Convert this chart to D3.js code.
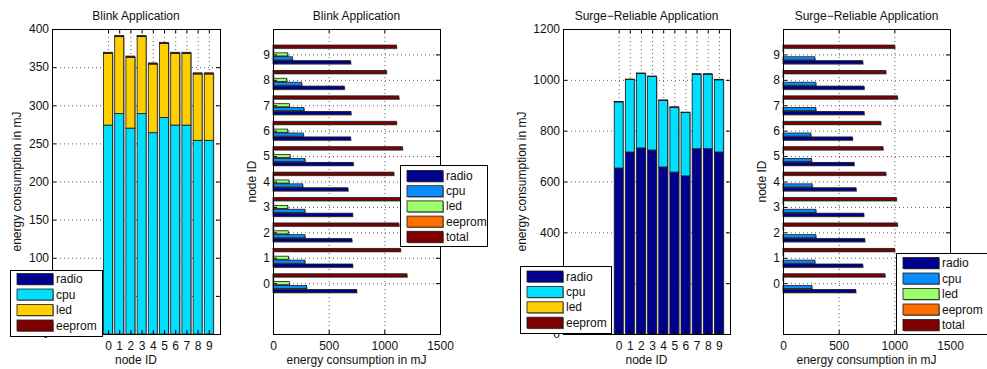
<!DOCTYPE html>
<html>
<head>
<meta charset="utf-8">
<script src="https://cdn.jsdelivr.net/npm/d3@7"></script>
<style>
  body { margin: 0; background: #fff; }
  text { font-family: "Liberation Sans", Arial, Helvetica, sans-serif; fill: #111; }
</style>
</head>
<body>
<svg id="chart" width="987" height="369"></svg>
<script>
// ---- data -------------------------------------------------------------
const nodes = [0, 1, 2, 3, 4, 5, 6, 7, 8, 9];

// Blink application, stacked per node (mJ)
const blinkStackRadio  = [0, 0, 0, 0, 0, 0, 0, 0, 0, 0];
const blinkStackCpu    = [274, 289, 270, 289, 264, 284, 274, 274, 254, 254];
const blinkStackLed    = [94, 101, 93, 101, 90, 97, 94, 94, 87, 87];
const blinkStackEeprom = [1.5, 1.5, 1.5, 1.5, 1.5, 1.5, 1.5, 1.5, 1.5, 1.5];

// Blink application, grouped per node (mJ)
const blinkRadio  = [751, 715, 708, 715, 673, 720, 697, 700, 640, 697];
const blinkCpu    = [302, 287, 287, 287, 267, 287, 272, 278, 258, 174];
const blinkLed    = [147, 140, 137, 132, 144, 153, 132, 147, 123, 132];
const blinkEeprom = [4, 4, 4, 4, 4, 4, 4, 4, 4, 4];
const blinkTotal  = [1203, 1145, 1130, 1150, 1085, 1162, 1108, 1130, 1018, 1108];

// Surge-Reliable application, stacked per node (mJ)
const surgeStackRadio  = [653, 716, 732, 724, 657, 637, 622, 729, 729, 716];
const surgeStackCpu    = [260, 285, 293, 289, 262, 255, 249, 293, 293, 284];
const surgeStackLed    = [0, 0, 0, 0, 0, 0, 0, 0, 0, 0];
const surgeStackEeprom = [2, 2, 2, 2, 2, 2, 2, 2, 2, 2];

// Surge-Reliable application, grouped per node (mJ)
const surgeRadio  = [653, 716, 734, 725, 656, 638, 623, 728, 728, 716];
const surgeCpu    = [259, 286, 295, 295, 262, 256, 250, 295, 295, 286];
const surgeLed    = [0, 0, 0, 0, 0, 0, 0, 0, 0, 0];
const surgeEeprom = [3, 3, 3, 3, 3, 3, 3, 3, 3, 3];
const surgeTotal  = [916, 1003, 1027, 1018, 923, 898, 878, 1027, 923, 1003];

const stackKeys = ["radio", "cpu", "led", "eeprom"];
const groupKeys = ["radio", "cpu", "led", "eeprom", "total"];
const stackColors = ["#000090", "#00DFFF", "#FFCF00", "#800000"];
const groupColors = ["#000090", "#0A8CFF", "#9CFF6C", "#FF7000", "#800000"];

const blinkTicks = d3.range(0, 401, 50);
const surgeTicks = d3.range(0, 1201, 200);
const energyTicks = [0, 500, 1000, 1500];

// ---- helpers ----------------------------------------------------------
const svg = d3.select("#chart");
const FS = 12;
const fmt = d3.format("d");

function label(g, x, y, str, anchor, rotate) {
  return g.append("text")
    .attr("transform", `translate(${x},${y})` + (rotate ? " rotate(-90)" : ""))
    .attr("text-anchor", anchor || "middle")
    .attr("dominant-baseline", "central")
    .style("font-size", FS + "px")
    .text(str);
}

function styleGrid(sel) {
  sel.select(".domain").remove();
  sel.selectAll("text").remove();
  sel.selectAll(".tick line")
    .attr("stroke", "#333")
    .attr("stroke-width", 0.8)
    .attr("stroke-dasharray", "1,3");
}

function styleTicks(sel, keepText) {
  sel.select(".domain").remove();
  sel.selectAll(".tick line").attr("stroke", "#000");
  if (!keepText) sel.selectAll("text").remove();
  else sel.selectAll("text").style("font-size", FS + "px")
    .style("font-family", '"Liberation Sans", Arial, sans-serif').attr("fill", "#111");
}

function shadedRect(g, x, y, w, h) {
  g.append("rect").attr("x", x + 1).attr("y", y + 1).attr("width", Math.max(w, 0)).attr("height", Math.max(h, 0))
    .attr("fill", "#8f8f8f");
}

function drawRect(g, x, y, w, h, fill) {
  g.append("rect").attr("x", x).attr("y", y).attr("width", Math.max(w, 0)).attr("height", Math.max(h, 0))
    .attr("fill", fill).attr("stroke", "#1a1a1a").attr("stroke-width", 0.8);
}

function legend(g, box, keys, colors) {
  const lg = g.append("g");
  lg.append("rect").attr("x", box.x + 0.5).attr("y", box.y + 0.5)
    .attr("width", box.w).attr("height", box.h)
    .attr("fill", "#fff").attr("stroke", "#000").attr("stroke-width", 1);
  keys.forEach((k, i) => {
    const cy = box.y + box.first + i * box.step;
    shadedRect(lg, box.x + box.sx, cy - 5.5, box.sw, 11);
    drawRect(lg, box.x + box.sx, cy - 5.5, box.sw, 11, colors[i]);
    label(lg, box.x + box.sx + box.sw + 3, cy, k, "start");
  });
}

function frame(g, left, right, top, bottom) {
  g.append("rect").attr("x", left + 0.5).attr("y", top + 0.5)
    .attr("width", right - left).attr("height", bottom - top)
    .attr("fill", "none").attr("stroke", "#000").attr("stroke-width", 1);
}

// ---- stacked (vertical) panel ----------------------------------------
function stackedPanel(p) {
  const g = svg.append("g");
  const x = d3.scaleLinear().domain([-5, 10]).range([p.left, p.right]);
  const y = d3.scaleLinear().domain([0, p.yMax]).range([p.bottom, p.top]);

  // grid
  g.append("g").attr("transform", `translate(${p.left},0)`)
    .call(d3.axisLeft(y).tickValues(p.yTicks).tickSize(-(p.right - p.left)))
    .call(styleGrid);
  g.append("g").attr("transform", `translate(0,${p.bottom})`)
    .call(d3.axisBottom(x).tickValues(nodes).tickSize(-(p.bottom - p.top)))
    .call(styleGrid);

  // bars
  const table = nodes.map((n, i) => {
    const row = { node: n };
    stackKeys.forEach((k, j) => row[k] = p.series[j][i]);
    return row;
  });
  const stacked = d3.stack().keys(stackKeys)(table);
  const bw = x(0.4) - x(-0.4);
  const bars = g.append("g");
  stacked.forEach(layer => layer.forEach(d => {
    shadedRect(bars, x(d.data.node) - bw / 2, y(d[1]), bw, y(d[0]) - y(d[1]));
  }));
  stacked.forEach((layer, j) => layer.forEach(d => {
    drawRect(bars, x(d.data.node) - bw / 2, y(d[1]), bw, y(d[0]) - y(d[1]), stackColors[j]);
  }));

  // axes with inward ticks on all four sides
  g.append("g").attr("transform", `translate(${p.left},0)`)
    .call(d3.axisLeft(y).tickValues(p.yTicks).tickFormat(fmt).tickSizeInner(-4).tickSizeOuter(0).tickPadding(3))
    .call(s => styleTicks(s, true));
  g.append("g").attr("transform", `translate(${p.right},0)`)
    .call(d3.axisRight(y).tickValues(p.yTicks).tickSizeInner(-4).tickSizeOuter(0))
    .call(s => styleTicks(s, false));
  g.append("g").attr("transform", `translate(0,${p.bottom})`)
    .call(d3.axisBottom(x).tickValues(nodes).tickFormat(fmt).tickSizeInner(-4).tickSizeOuter(0).tickPadding(7))
    .call(s => styleTicks(s, true));
  g.append("g").attr("transform", `translate(0,${p.top})`)
    .call(d3.axisTop(x).tickValues(nodes).tickSizeInner(-4).tickSizeOuter(0))
    .call(s => styleTicks(s, false));
  frame(g, p.left, p.right, p.top, p.bottom);

  label(g, (p.left + p.right) / 2, 16, p.title);
  label(g, (p.left + p.right) / 2, 360, "node ID");
  label(g, p.ylabelX, (p.top + p.bottom) / 2, "energy consumption in mJ", "middle", true);

  legend(g, p.legend, stackKeys, stackColors);
}

// ---- grouped (horizontal) panel --------------------------------------
function groupedPanel(p) {
  const g = svg.append("g");
  const x = d3.scaleLinear().domain([0, 1500]).range([p.left, p.right]);
  const y = d3.scaleLinear().domain([-2, 10]).range([p.bottom, p.top]);

  g.append("g").attr("transform", `translate(${p.left},0)`)
    .call(d3.axisLeft(y).tickValues(nodes).tickSize(-(p.right - p.left)))
    .call(styleGrid);
  g.append("g").attr("transform", `translate(0,${p.bottom})`)
    .call(d3.axisBottom(x).tickValues(energyTicks).tickSize(-(p.bottom - p.top)))
    .call(styleGrid);

  // grouped bars: five series per node, spread around the node position
  const groupWidth = 5 / 6.5;
  const slot = groupWidth / 5;
  const bh = y(0) - y(slot * 0.8);
  const offset = d3.scaleLinear().domain([0, 4]).range([-2 * slot, 2 * slot]);
  const bars = g.append("g");
  const pass = (fn) => p.series.forEach((vals, j) => vals.forEach((v, i) => {
    fn(y(nodes[i] + offset(j)), v, j);
  }));
  pass((cy, v) => shadedRect(bars, x(0), cy - bh / 2, x(v) - x(0), bh));
  pass((cy, v, j) => drawRect(bars, x(0), cy - bh / 2, x(v) - x(0), bh, groupColors[j]));

  g.append("g").attr("transform", `translate(${p.left},0)`)
    .call(d3.axisLeft(y).tickValues(nodes).tickFormat(fmt).tickSizeInner(-4).tickSizeOuter(0).tickPadding(3))
    .call(s => styleTicks(s, true));
  g.append("g").attr("transform", `translate(${p.right},0)`)
    .call(d3.axisRight(y).tickValues(nodes).tickSizeInner(-4).tickSizeOuter(0))
    .call(s => styleTicks(s, false));
  g.append("g").attr("transform", `translate(0,${p.bottom})`)
    .call(d3.axisBottom(x).tickValues(energyTicks).tickFormat(fmt).tickSizeInner(-4).tickSizeOuter(0).tickPadding(7))
    .call(s => styleTicks(s, true));
  g.append("g").attr("transform", `translate(0,${p.top})`)
    .call(d3.axisTop(x).tickValues(energyTicks).tickSizeInner(-4).tickSizeOuter(0))
    .call(s => styleTicks(s, false));
  frame(g, p.left, p.right, p.top, p.bottom);

  label(g, (p.left + p.right) / 2, 16, p.title);
  label(g, (p.left + p.right) / 2, 360, "energy consumption in mJ");
  label(g, p.ylabelX, (p.top + p.bottom) / 2, "node ID", "middle", true);

  legend(g, p.legend, groupKeys, groupColors);
}

// ---- panels -----------------------------------------------------------
stackedPanel({
  left: 52, right: 220, top: 29, bottom: 334,
  yMax: 400, yTicks: blinkTicks, ylabelX: 17,
  title: "Blink Application",
  series: [blinkStackRadio, blinkStackCpu, blinkStackLed, blinkStackEeprom],
  legend: { x: 10, y: 270, w: 92, h: 66, sx: 7, sw: 36, first: 9, step: 15.5 }
});

groupedPanel({
  left: 273, right: 440, top: 29, bottom: 334, ylabelX: 252,
  title: "Blink Application",
  series: [blinkRadio, blinkCpu, blinkLed, blinkEeprom, blinkTotal],
  legend: { x: 400, y: 165, w: 87, h: 81, sx: 7, sw: 36, first: 11, step: 15.2 }
});

stackedPanel({
  left: 563, right: 730, top: 29, bottom: 334,
  yMax: 1200, yTicks: surgeTicks, ylabelX: 522,
  title: "Surge\u2212Reliable Application",
  series: [surgeStackRadio, surgeStackCpu, surgeStackLed, surgeStackEeprom],
  legend: { x: 520, y: 266, w: 91, h: 67, sx: 7, sw: 36, first: 10.5, step: 15.4 }
});

groupedPanel({
  left: 783, right: 950, top: 29, bottom: 334, ylabelX: 762,
  title: "Surge\u2212Reliable Application",
  series: [surgeRadio, surgeCpu, surgeLed, surgeEeprom, surgeTotal],
  legend: { x: 896, y: 253, w: 91, h: 81, sx: 7, sw: 36, first: 10, step: 15.5 }
});
</script>
</body>
</html>
